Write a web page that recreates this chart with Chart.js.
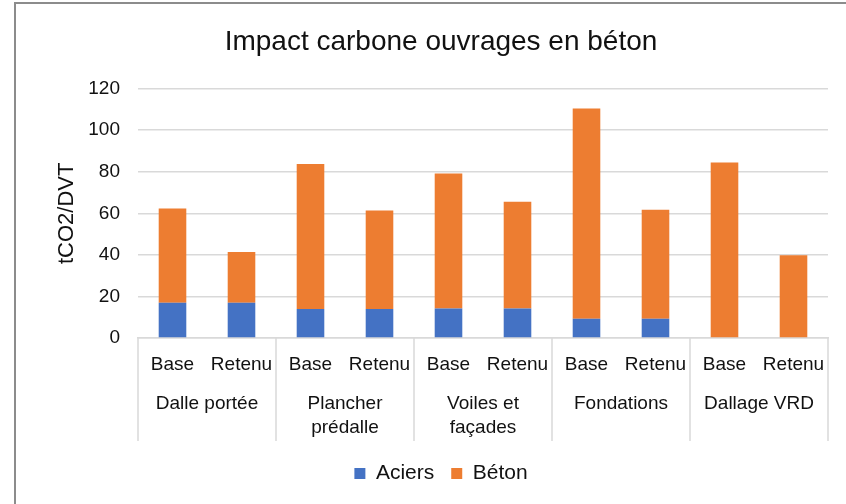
<!DOCTYPE html>
<html>
<head>
<meta charset="utf-8">
<title>Impact carbone ouvrages en béton</title>
<script src="https://cdn.jsdelivr.net/npm/chart.js@4.4.1/dist/chart.umd.min.js"></script>
<style>
  body { margin: 0; background: #fff; overflow: hidden; }
  #wrap { position: relative; width: 846px; height: 504px; }
  #frame {
    position: absolute; left: 14px; top: 2px; width: 900px; height: 600px;
    border-left: 2px solid #8c8c8c; border-top: 2px solid #8c8c8c;
    pointer-events: none;
  }
</style>
</head>
<body>
<div id="wrap">
  <canvas id="chartA"></canvas>
  <div id="frame"></div>
</div>
<script>
'use strict';

// variantes par ouvrage
var scenarios = ['Base', 'Retenu', 'Base', 'Retenu', 'Base', 'Retenu', 'Base', 'Retenu', 'Base', 'Retenu'];
var ouvrages = ['Dalle portée', ['Plancher', 'prédalle'], ['Voiles et', 'façades'], 'Fondations', 'Dallage VRD'];

// tCO2/DVT
var aciers = [17, 17, 14, 14, 14.2, 14.2, 9.3, 9.3, 0, 0];
var beton = [45.3, 24.4, 69.7, 47.4, 65, 51.3, 101.1, 52.4, 84.4, 39.8];

var yTicks = [0, 20, 40, 60, 80, 100, 120];

var c1 = '#4472c4';
var c2 = '#ed7d31';
var gridColor = '#d9d9d9';
var textColor = '#111';
var fontFamily = "'Liberation Sans', Arial, sans-serif";

// separateurs verticaux entre les groupes d'ouvrages
var groupLines = {
  id: 'groupLines',
  afterDraw: function(chart) {
    var x = chart.scales.x;
    var x2 = chart.scales.x2;
    var ctx = chart.ctx;
    var half = (x.getPixelForValue(1) - x.getPixelForValue(0)) / 2;
    ctx.save();
    ctx.strokeStyle = gridColor;
    ctx.lineWidth = 1.5;
    for (var i = 0; i <= scenarios.length; i += 2) {
      var px = i < scenarios.length ? x.getPixelForValue(i) - half : x.getPixelForValue(i - 1) + half;
      ctx.beginPath();
      ctx.moveTo(px, chart.chartArea.bottom);
      ctx.lineTo(px, x2.bottom - 5);
      ctx.stroke();
    }
    ctx.restore();
  }
};

function makeChart() {
  var ctx = document.getElementById('chartA');
  var impactChart = new Chart(ctx, {
    type: 'bar',
    data: {
      labels: scenarios,
      datasets: [
        { label: 'Aciers', data: aciers, backgroundColor: c1 },
        { label: 'Béton', data: beton, backgroundColor: c2 }
      ]
    },
    options: {
      responsive: true,
      maintainAspectRatio: false,
      animation: false,
      categoryPercentage: 1,
      barPercentage: 0.4,
      layout: { padding: { left: 54, right: 18, top: 0, bottom: 10 } },
      plugins: {
        tooltip: { enabled: false },
        title: {
          display: true,
          text: 'Impact carbone ouvrages en béton',
          color: textColor,
          font: { family: fontFamily, size: 28, weight: 'normal', lineHeight: 1.2 },
          padding: { top: 25, bottom: 30 }
        },
        legend: {
          position: 'bottom',
          labels: {
            color: textColor,
            boxWidth: 11,
            boxHeight: 11,
            padding: 17,
            font: { family: fontFamily, size: 21 }
          }
        }
      },
      scales: {
        x: {
          stacked: true,
          weight: 0,
          grid: { display: false },
          border: { display: true, color: gridColor, width: 1.5 },
          ticks: {
            color: textColor,
            padding: 7,
            maxRotation: 0,
            autoSkip: false,
            font: { family: fontFamily, size: 19 }
          },
          afterFit: function(scale) { scale.height = 40; }
        },
        x2: {
          type: 'category',
          labels: ouvrages,
          position: 'bottom',
          weight: 1,
          offset: true,
          grid: { display: false },
          border: { display: false },
          ticks: {
            color: textColor,
            padding: 6,
            maxRotation: 0,
            autoSkip: false,
            font: { family: fontFamily, size: 19, lineHeight: 1.25 }
          },
          afterFit: function(scale) { scale.height = 68; }
        },
        y: {
          stacked: true,
          min: 0,
          max: 120,
          afterBuildTicks: function(scale) {
            scale.ticks = yTicks.map(function(v) { return { value: v }; });
          },
          grid: { color: gridColor, lineWidth: 1.5, drawTicks: false },
          border: { display: false },
          ticks: {
            color: textColor,
            padding: 18,
            font: { family: fontFamily, size: 19 }
          },
          title: {
            display: true,
            text: 'tCO2/DVT',
            color: textColor,
            padding: 0,
            font: { family: fontFamily, size: 22 }
          },
          afterFit: function(scale) { scale.width = 84; }
        }
      }
    },
    plugins: [groupLines]
  });
  return impactChart;
}

makeChart();
</script>
</body>
</html>
